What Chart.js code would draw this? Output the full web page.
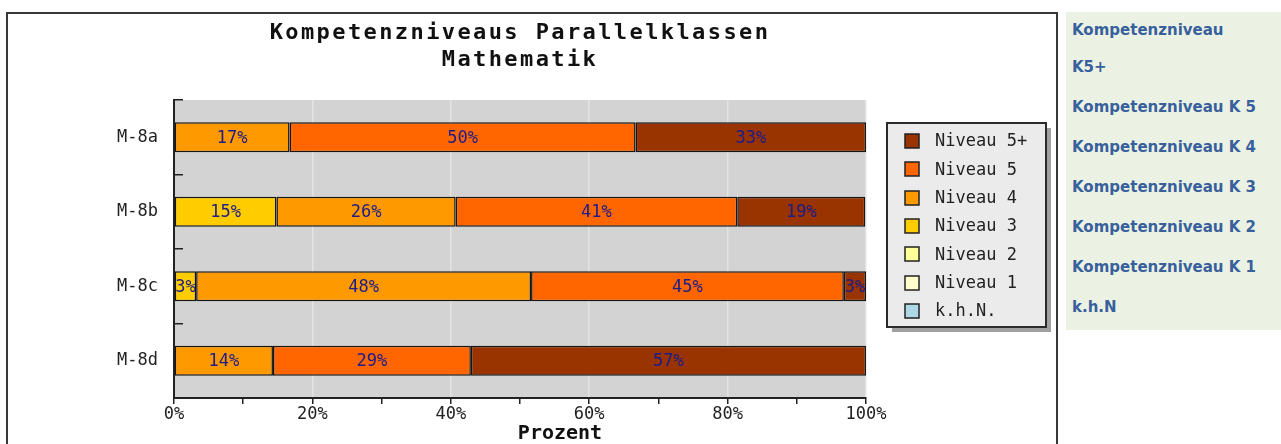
<!DOCTYPE html>
<html>
<head>
<meta charset="utf-8">
<script src="https://cdn.jsdelivr.net/npm/chart.js@4.4.0/dist/chart.umd.min.js"></script>
<style>
  html, body { margin: 0; padding: 0; background: #ffffff; width: 1281px; height: 444px; overflow: hidden; }
  #frame { position: absolute; left: 6px; top: 12px; width: 1048px; height: 440px; border: 2px solid #383838; background: #fff; }
  #chart { position: absolute; left: 0; top: 0; }
  #side { position: absolute; left: 1066px; top: 12px; width: 215px; height: 318px; background: #ecf2e3; box-sizing: border-box; padding-left: 6px; }
  #side div { font-family: "DejaVu Sans", Verdana, sans-serif; font-weight: bold; font-size: 15px; color: #37609d; line-height: 37px; margin-bottom: 3px; white-space: nowrap; }
</style>
</head>
<body>
<div id="frame"><canvas id="chart" width="1048" height="430"></canvas></div>
<div id="side"></div>
<script>
// ---- data ----
const categories = ['M-8a', 'M-8b', 'M-8c', 'M-8d'];
const seriesNames = ['k.h.N.', 'Niveau 1', 'Niveau 2', 'Niveau 3', 'Niveau 4', 'Niveau 5', 'Niveau 5+'];
const khN        = [0, 0, 0, 0];
const niveau1    = [0, 0, 0, 0];
const niveau2    = [0, 0, 0, 0];
const niveau3    = [0, 14.8, 3.2, 0];
const niveau4    = [16.7, 25.9, 48.4, 14.3];
const niveau5    = [50.0, 40.7, 45.2, 28.6];
const niveau5plus = [33.3, 18.5, 3.2, 57.1];
const seriesColors = ['#add8e6', '#ffffcc', '#ffff99', '#ffcc00', '#ff9900', '#ff6600', '#993300'];
const xTickValues = [0, 10, 20, 30, 40, 50, 60, 70, 80, 90, 100];
const xLabelEvery = 20;
const titleLines = ['Kompetenzniveaus Parallelklassen', 'Mathematik'];
const xAxisTitle = 'Prozent';
const sideLinks = ['Kompetenzniveau<br>K5+', 'Kompetenzniveau K 5', 'Kompetenzniveau K 4', 'Kompetenzniveau K 3', 'Kompetenzniveau K 2', 'Kompetenzniveau K 1', 'k.h.N'];

document.getElementById('side').innerHTML = sideLinks.map(t => '<div>' + t + '</div>').join('');

const MONO = '"DejaVu Sans Mono", "Liberation Mono", monospace';
const seriesData = [khN, niveau1, niveau2, niveau3, niveau4, niveau5, niveau5plus];

const datasets = seriesNames.map((name, i) => ({
  label: name,
  data: seriesData[i],
  backgroundColor: seriesColors[i],
  borderColor: '#151515',
  borderWidth: 1.5,
  borderSkipped: false,
  barPercentage: 0.4,
  categoryPercentage: 1.0
}));

const bgPlugin = {
  id: 'bg',
  beforeDraw(chart) {
    const {ctx, chartArea: a} = chart;
    ctx.save();
    ctx.fillStyle = '#d3d3d3';
    ctx.fillRect(a.left, a.top, a.right - a.left, a.bottom - a.top);
    ctx.restore();
    const tb = chart.titleBlock;
    if (tb && !tb._spaced) {
      const orig = tb.draw;
      tb.draw = function (...args) {
        const c = this.ctx;
        c.save();
        c.letterSpacing = '2.4px';
        orig.apply(this, args);
        c.restore();
      };
      tb._spaced = true;
    }
  }
};

const barLabelPlugin = {
  id: 'barLabels',
  afterDatasetsDraw(chart) {
    const ctx = chart.ctx;
    ctx.save();
    ctx.font = '17px ' + MONO;
    ctx.fillStyle = '#1c1c8a';
    ctx.textAlign = 'center';
    ctx.textBaseline = 'middle';
    chart.data.datasets.forEach((ds, di) => {
      chart.getDatasetMeta(di).data.forEach((el, i) => {
        const v = ds.data[i];
        if (!v) return;
        ctx.fillText(Math.round(v) + '%', (el.x + el.base) / 2, el.y + 1);
      });
    });
    ctx.restore();
  }
};

const legendPlugin = {
  id: 'boxLegend',
  afterDraw(chart) {
    const {ctx, chartArea: a} = chart;
    const left = a.right + 21, top = a.top + 23, w = 159, h = 204;
    ctx.save();
    ctx.fillStyle = '#a0a0a0';
    ctx.fillRect(left + 5, top + 5, w, h);
    ctx.fillStyle = '#ebebeb';
    ctx.fillRect(left, top, w, h);
    ctx.strokeStyle = '#2a2a2a';
    ctx.lineWidth = 2;
    ctx.strokeRect(left, top, w, h);
    ctx.font = '17px ' + MONO;
    ctx.textBaseline = 'middle';
    ctx.textAlign = 'left';
    const items = chart.data.datasets.slice().reverse();
    items.forEach((ds, k) => {
      const cy = top + 18 + k * 28.3;
      ctx.fillStyle = ds.backgroundColor;
      ctx.fillRect(left + 18, Math.round(cy - 7), 14, 14);
      ctx.strokeStyle = '#222';
      ctx.lineWidth = 1.5;
      ctx.strokeRect(left + 18, Math.round(cy - 7), 14, 14);
      ctx.fillStyle = '#222';
      ctx.fillText(ds.label, left + 48, cy + 1);
    });
    ctx.restore();
  }
};

const axisTitlePlugin = {
  id: 'axisTitle',
  afterDraw(chart) {
    const {ctx} = chart;
    const xs = chart.scales.x;
    ctx.save();
    ctx.font = 'bold 20px ' + MONO;
    ctx.fillStyle = '#111';
    ctx.textAlign = 'center';
    ctx.textBaseline = 'middle';
    ctx.fillText(xAxisTitle, (xs.left + xs.right) / 2 + 40, xs.bottom - 10);
    ctx.restore();
  }
};

new Chart(document.getElementById('chart'), {
  type: 'bar',
  data: { labels: categories, datasets },
  options: {
    indexAxis: 'y',
    responsive: false,
    animation: false,
    devicePixelRatio: 1,
    layout: { padding: { left: 0, right: 190, top: 0, bottom: 0 } },
    plugins: {
      legend: { display: false },
      tooltip: { enabled: false },
      title: {
        display: true,
        fullSize: false,
        text: titleLines,
        color: '#111',
        font: { family: MONO, size: 22, weight: 'bold', lineHeight: 27 / 22 },
        padding: { top: 6, bottom: 26 }
      }
    },
    scales: {
      x: {
        type: 'linear',
        stacked: true,
        min: 0,
        max: 100,
        afterBuildTicks: s => { s.ticks = xTickValues.map(v => ({ value: v })); },
        afterFit: s => { s.height = 46; },
        ticks: {
          autoSkip: false,
          maxRotation: 0,
          padding: 0,
          color: '#222',
          font: { family: MONO, size: 17 },
          callback: v => (v % xLabelEvery === 0 ? v + '%' : '')
        },
        grid: {
          color: c => (c.tick && c.tick.value % xLabelEvery === 0 ? '#e4e4e4' : 'rgba(0,0,0,0)'),
          tickColor: '#222',
          tickLength: 6,
          lineWidth: 1.5
        },
        border: { color: '#222', width: 2 }
      },
      y: {
        type: 'category',
        stacked: true,
        afterFit: s => { s.width = 166; },
        ticks: { padding: 25, color: '#222', font: { family: MONO, size: 17 } },
        grid: { drawOnChartArea: false, tickLength: -9, tickColor: '#222', lineWidth: 1.5 },
        border: { color: '#222', width: 2 }
      }
    }
  },
  plugins: [bgPlugin, barLabelPlugin, legendPlugin, axisTitlePlugin]
});
</script>
</body>
</html>
